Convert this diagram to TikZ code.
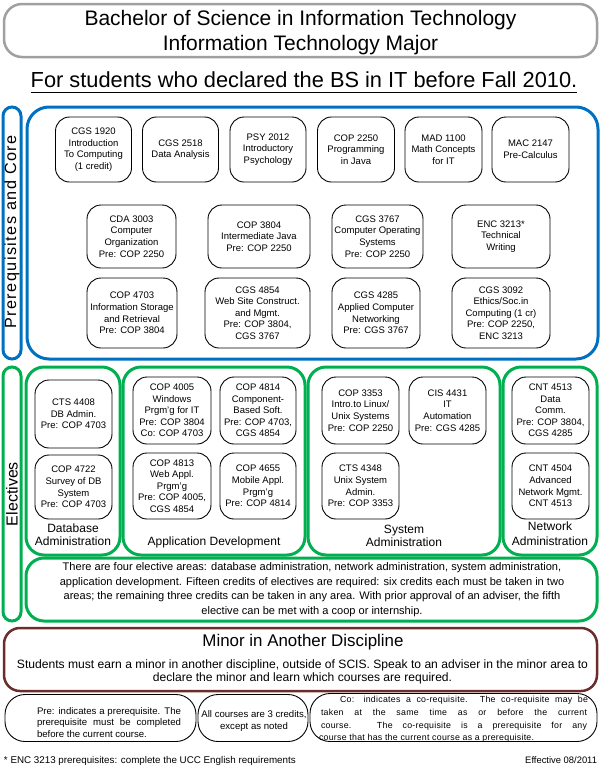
\documentclass[tikz,border=0pt]{standalone}
\usepackage{fontspec}
\setmainfont{Liberation Sans}
\newfontfamily\spacedfont[LetterSpace=9]{Liberation Sans}
\newfontfamily\notefont[LetterSpace=3]{Liberation Sans}
\definecolor{cblue}{HTML}{0070C0}
\definecolor{cgreen}{HTML}{00B050}
\definecolor{cbrown}{HTML}{6B2C2C}
\definecolor{cgray}{HTML}{A0A0A0}
\newcommand\fsz[2]{\fontsize{#1}{#2}\selectfont}
\newcommand\spreadto[2]{\makebox[#1][s]{#2}}
\begin{document}
\begin{tikzpicture}[x=1pt,y=-1pt,
  every node/.style={inner sep=0pt,outer sep=0pt},
  sz/.style 2 args={minimum width=#1pt,minimum height=#2pt},
  titlebox/.style={draw=cgray,line width=2.5pt,rounded corners=18pt},
  bluebox/.style={draw=cblue,line width=3pt,rounded corners=22pt},
  bluetab/.style={draw=cblue,line width=3pt,rounded corners=9pt},
  greenbox/.style={draw=cgreen,line width=3pt,rounded corners=18pt},
  greentab/.style={draw=cgreen,line width=3pt,rounded corners=9pt},
  minorbox/.style={draw=cbrown,line width=2.5pt,rounded corners=16pt},
  notebox/.style={draw=black,line width=0.9pt,rounded corners=20pt},
  course/.style={draw=black,line width=0.9pt,rounded corners=14pt,align=center,font=\fsz{9.5}{11.6}},
  sidelabel/.style={rotate=90,font=\fsz{16}{18}},
  arealabel/.style={anchor=base,font=\fsz{12}{14}},
  txt/.style={anchor=base},
  notetxt/.style={anchor=base west,font=\fsz{8.8}{12}\notefont},
  ]
\useasboundingbox (0,0) rectangle (602,769);

% ---------- title ----------
\node[titlebox,sz={593}{53}] (title) at (300.5,30.5) {};
\node[txt,font=\fsz{21}{25}] (t1) at (300.5,25) {Bachelor of Science in Information Technology};
\node[txt,font=\fsz{21}{25}] (t2) at (300.5,50) {Information Technology Major};
\node[txt,font=\fsz{21.8}{25}] (sub) at (304,87) {For students who declared the BS in IT before Fall 2010.};
\draw[line width=1.6pt] ([yshift=-5.5pt]sub.base west) -- ([yshift=-5.5pt]sub.base east);

% ---------- prerequisites and core ----------
\node[bluetab,sz={18}{252}] (ptab) at (12,233) {};
\node[sidelabel,font=\fsz{16.2}{18}\spacedfont] (plabel) at (12,232) {Prerequisites and Core};
\node[bluebox,sz={571}{252}] (core) at (312.5,233) {};

\node[course,sz={76}{65}] (cgs1920) at (93.5,149.5) {CGS 1920\\Introduction\\To Computing\\(1 credit)};
\node[course,sz={76}{65}] (cgs2518) at (180.5,149.5) {CGS 2518\\Data Analysis};
\node[course,sz={76}{65}] (psy2012) at (268,149.5) {PSY 2012\\Introductory\\Psychology};
\node[course,sz={77}{65}] (cop2250) at (356,149.5) {COP 2250\\Programming\\in Java};
\node[course,sz={77}{65}] (mad1100) at (443.5,149.5) {MAD 1100\\Math Concepts\\for IT};
\node[course,sz={77}{65}] (mac2147) at (530.5,149.5) {MAC 2147\\Pre-Calculus};

\node[course,sz={89}{63}] (cda3003) at (131.5,236.5) {CDA 3003\\Computer\\Organization\\Pre: COP 2250};
\node[course,sz={102}{63}] (cop3804) at (259,236.5) {COP 3804\\Intermediate Java\\Pre: COP 2250};
\node[course,sz={91}{63}] (cgs3767) at (377.5,236.5) {CGS 3767\\Computer Operating\\Systems\\Pre: COP 2250};
\node[course,sz={98}{63}] (enc3213) at (501,236.5) {ENC 3213*\\Technical\\Writing};

\node[course,sz={90}{70}] (cop4703) at (132,313) {COP 4703\\Information Storage\\and Retrieval\\Pre: COP 3804};
\node[course,sz={105}{70}] (cgs4854) at (257.5,313) {CGS 4854\\Web Site Construct.\\and Mgmt.\\Pre: COP 3804,\\CGS 3767};
\node[course,sz={88}{70}] (cgs4285) at (376,313) {CGS 4285\\Applied Computer\\Networking\\Pre: CGS 3767};
\node[course,sz={98}{70}] (cgs3092) at (501,313) {CGS 3092\\Ethics/Soc.in\\Computing (1 cr)\\Pre: COP 2250,\\ENC 3213};

% ---------- electives ----------
\node[greentab,sz={18}{254}] (etab) at (12,494) {};
\node[sidelabel] (elabel) at (12,494) {Electives};

\node[greenbox,sz={94}{188}] (dbarea) at (73,461) {};
\node[greenbox,sz={182}{188}] (apparea) at (214,461) {};
\node[greenbox,sz={192}{188}] (sysarea) at (404,461) {};
\node[greenbox,sz={94}{188}] (netarea) at (550,461) {};

\node[course,sz={77}{68}] (cts4408) at (73.5,414) {CTS 4408\\DB Admin.\\Pre: COP 4703};
\node[course,sz={77}{64}] (cop4722) at (73.5,487) {COP 4722\\Survey of DB\\System\\Pre: COP 4703};
\node[course,sz={78}{67}] (cop4005) at (172,410.5) {COP 4005\\Windows\\Prgm'g for IT\\Pre: COP 3804\\Co: COP 4703};
\node[course,sz={76}{67}] (cop4814) at (258,410.5) {COP 4814\\Component-\\Based Soft.\\Pre: COP 4703,\\CGS 4854};
\node[course,sz={78}{66}] (cop4813) at (172,486) {COP 4813\\Web Appl.\\Prgm'g\\Pre: COP 4005,\\CGS 4854};
\node[course,sz={76}{66}] (cop4655) at (258,486) {COP 4655\\Mobile Appl.\\Prgm'g\\Pre: COP 4814};
\node[course,sz={77}{67}] (cop3353) at (360.5,410.5) {COP 3353\\Intro.to Linux/\\Unix Systems\\Pre: COP 2250};
\node[course,sz={77}{67}] (cis4431) at (447.5,410.5) {CIS 4431\\IT\\Automation\\Pre: CGS 4285};
\node[course,sz={77}{66}] (cts4348) at (360.5,486) {CTS 4348\\Unix System\\Admin.\\Pre: COP 3353};
\node[course,sz={77}{67}] (cnt4513) at (550.5,410.5) {CNT 4513\\Data\\Comm.\\Pre: COP 3804,\\CGS 4285};
\node[course,sz={77}{66}] (cnt4504) at (550.5,486) {CNT 4504\\Advanced\\Network Mgmt.\\CNT 4513};

\node[arealabel] (dbl1) at (73,532) {Database};
\node[arealabel] (dbl2) at (73,545) {Administration};
\node[arealabel] (appl) at (214,545) {Application Development};
\node[arealabel] (sysl1) at (404,533) {System};
\node[arealabel] (sysl2) at (404,546) {Administration};
\node[arealabel] (netl1) at (550,530) {Network};
\node[arealabel] (netl2) at (550,545) {Administration};

\node[greenbox,sz={571}{63}] (elnote) at (311.5,589.5) {};
\node[align=center,font=\fsz{11.05}{14.5}] (eltext) at (312,589.5) {There are four elective areas: database administration, network administration, system administration,\\application development. Fifteen credits of electives are required: six credits each must be taken in two\\areas; the remaining three credits can be taken in any area. With prior approval of an adviser, the fifth\\elective can be met with a coop or internship.};

% ---------- minor ----------
\node[minorbox,sz={593}{63}] (minor) at (300.5,659.5) {};
\node[txt,font=\fsz{16.9}{18}] (mtitle) at (303,646) {Minor in Another Discipline};
\node[txt,font=\fsz{12.1}{13.5}] (mb1) at (302.5,668) {Students must earn a minor in another discipline, outside of SCIS. Speak to an adviser in the minor area to};
\node[txt,font=\fsz{12.1}{13.5}] (mb2) at (302.5,681.5) {declare the minor and learn which courses are required.};

% ---------- notes ----------
\node[notebox,sz={191}{47}] (note1) at (100.5,718) {};
\node[notebox,sz={110}{47}] (note2) at (253,718) {};
\node[notebox,sz={287}{48}] (note3) at (453.5,717.5) {};

\node[notetxt,font=\fsz{9.6}{12}\rmfamily] (n1a) at (37,714) {\spreadto{144pt}{Pre: indicates a prerequisite. The}};
\node[notetxt,font=\fsz{9.6}{12}\rmfamily] (n1b) at (37,725.5) {\spreadto{144pt}{prerequisite must be completed}};
\node[notetxt,font=\fsz{9.6}{12}\rmfamily] (n1c) at (37,737) {before the current course.};

\node[txt,font=\fsz{9.6}{12}] (n2a) at (254,717) {All courses are 3 credits,};
\node[txt,font=\fsz{9.6}{12}] (n2b) at (254,729) {except as noted};

\node[notetxt] (n3a) at (340,702) {\spreadto{248pt}{Co: indicates a co-requisite. The co-requisite may be}};
\node[notetxt] (n3b) at (321,715) {\spreadto{266pt}{taken at the same time as or before the current}};
\node[notetxt] (n3c) at (321,728) {\spreadto{266pt}{course. The co-requisite is a prerequisite for any}};
\node[notetxt] (n3d) at (319,740) {course that has the current course as a prerequisite.};

\node[txt,anchor=base west,font=\fsz{9.8}{12}] (foot) at (4,763) {* ENC 3213 prerequisites: complete the UCC English requirements};
\node[txt,anchor=base east,font=\fsz{9.4}{12}] (eff) at (597,763) {Effective 08/2011};
\end{tikzpicture}
\end{document}
